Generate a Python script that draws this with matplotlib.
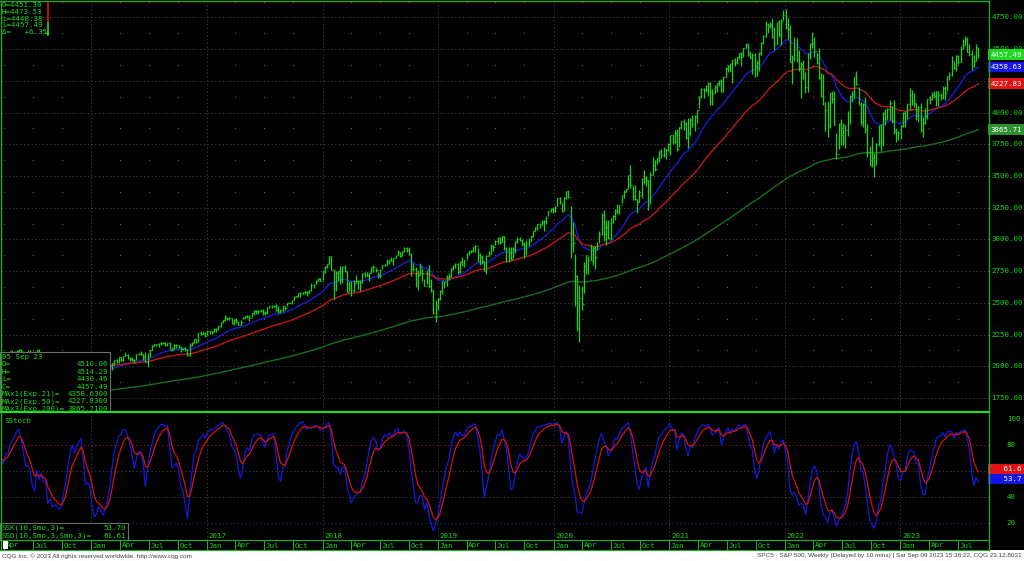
import matplotlib
matplotlib.use("Agg")
import matplotlib.pyplot as plt
import matplotlib.dates as mdates
import matplotlib.transforms as mtransforms
from matplotlib.patches import Rectangle
from matplotlib.lines import Line2D
import numpy as np
import pandas as pd

# S&P 500 weekly bars, first bar = week of Mon 23 Mar 2015, last = week of 4 Sep 2023
first_week = "2015-03-23"
closes = [
    # 2015
    2061, 2067, 2102, 2081, 2117, 2108, 2116, 2123, 2126, 2107, 2092, 2094, 2110, 2102, 2077, 2076, 2127, 2080, 2104, 2078,
    2092, 1971, 1989, 1921, 1961, 1958, 1931, 1951, 2015, 2033, 2075, 2079, 2099, 2023, 2089, 2090, 2092, 2012, 2006, 2061, 2044,
    # 2016
    1922, 1880, 1907, 1940, 1880, 1865, 1918, 1948, 2000, 2022, 2050, 2035, 2073, 2048, 2081, 2092, 2065, 2057, 2047, 2052,
    2099, 2099, 2096, 2071, 2037, 2103, 2130, 2162, 2175, 2174, 2183, 2184, 2184, 2169, 2180, 2128, 2139, 2165, 2168, 2153,
    2133, 2141, 2126, 2085, 2164, 2182, 2213, 2192, 2260, 2258, 2264, 2239,
    # 2017
    2277, 2275, 2271, 2295, 2297, 2316, 2351, 2367, 2383, 2373, 2378, 2344, 2363, 2355, 2329, 2349, 2384, 2399, 2391, 2382,
    2416, 2439, 2432, 2433, 2438, 2423, 2425, 2459, 2473, 2472, 2476, 2441, 2426, 2443, 2477, 2461, 2500, 2502, 2519, 2549,
    2553, 2575, 2581, 2588, 2582, 2579, 2602, 2642, 2652, 2676, 2684, 2674,
    # 2018
    2743, 2786, 2810, 2873, 2762, 2620, 2732, 2747, 2691, 2786, 2752, 2588, 2641, 2604, 2656, 2670, 2670, 2663, 2728, 2713,
    2721, 2735, 2779, 2780, 2755, 2718, 2760, 2801, 2802, 2819, 2840, 2833, 2850, 2875, 2902, 2872, 2905, 2930, 2914, 2886,
    2767, 2768, 2659, 2723, 2781, 2736, 2633, 2760, 2633, 2600, 2417, 2486, 2532,
    # 2019
    2596, 2671, 2665, 2707, 2708, 2776, 2793, 2804, 2743, 2822, 2801, 2834, 2893, 2907, 2905, 2940, 2946, 2881, 2860, 2826,
    2752, 2873, 2887, 2950, 2942, 2990, 3014, 2976, 3026, 2932, 2919, 2889, 2847, 2926, 2979, 3007, 2992, 2962, 2952, 2970,
    2986, 3023, 3067, 3093, 3120, 3110, 3141, 3146, 3169, 3221, 3240, 3235,
    # 2020
    3265, 3330, 3295, 3226, 3328, 3380, 3338, 2954, 2972, 2711, 2305, 2541, 2489, 2790, 2875, 2837, 2831, 2930, 2864, 2955,
    3044, 3194, 3041, 3098, 3009, 3130, 3185, 3225, 3216, 3271, 3351, 3373, 3397, 3508, 3427, 3341, 3319, 3298, 3348, 3477,
    3484, 3465, 3270, 3510, 3585, 3558, 3638, 3699, 3663, 3709, 3703, 3756,
    # 2021
    3825, 3768, 3841, 3714, 3887, 3935, 3907, 3811, 3842, 3943, 3913, 3975, 4020, 4129, 4185, 4180, 4181, 4233, 4174, 4156,
    4204, 4230, 4247, 4166, 4281, 4352, 4370, 4327, 4412, 4395, 4437, 4468, 4442, 4509, 4535, 4459, 4433, 4455, 4357, 4391,
    4471, 4545, 4605, 4697, 4683, 4698, 4595, 4538, 4712, 4621, 4726, 4766,
    # 2022
    4677, 4663, 4398, 4432, 4501, 4419, 4349, 4385, 4329, 4204, 4463, 4543, 4546, 4488, 4393, 4272, 4132, 4123, 4024, 3901,
    4158, 4109, 3901, 3675, 3912, 3825, 3899, 3863, 3962, 4130, 4145, 4280, 4228, 4058, 3924, 4067, 3873, 3693, 3586, 3640,
    3583, 3753, 3901, 3771, 3993, 3965, 4026, 4072, 3934, 3852, 3845, 3840,
    # 2023
    3895, 3999, 3973, 4071, 4136, 4090, 4079, 3970, 4046, 3862, 3917, 3971, 4109, 4105, 4138, 4133, 4169, 4136, 4124, 4192,
    4151, 4282, 4299, 4410, 4348, 4450, 4399, 4505, 4536, 4582, 4478, 4464, 4370, 4406, 4516, 4457.49,
]
highs = [
    # 2015
    2106, 2089, 2103, 2107, 2120, 2126, 2120, 2126, 2134, 2133, 2121, 2109, 2126, 2129, 2086, 2085, 2129, 2133, 2114, 2113,
    2103, 2103, 1993, 1986, 1976, 2021, 1990, 1963, 2021, 2034, 2080, 2094, 2116, 2094, 2098, 2095, 2104, 2095, 2076, 2067, 2082,
    # 2016
    2038, 1950, 1909, 1940, 1947, 1882, 1930, 1963, 2010, 2022, 2052, 2056, 2075, 2075, 2083, 2112, 2097, 2075, 2075, 2056,
    2100, 2106, 2120, 2096, 2113, 2105, 2131, 2170, 2176, 2177, 2183, 2188, 2188, 2188, 2185, 2188, 2149, 2175, 2172, 2169,
    2161, 2146, 2152, 2133, 2182, 2189, 2214, 2215, 2262, 2278, 2266, 2273,
    # 2017
    2282, 2279, 2279, 2301, 2299, 2319, 2352, 2368, 2401, 2386, 2390, 2379, 2370, 2378, 2359, 2361, 2392, 2400, 2403, 2406,
    2419, 2441, 2447, 2446, 2454, 2450, 2432, 2464, 2478, 2484, 2480, 2491, 2474, 2454, 2481, 2475, 2500, 2508, 2520, 2552,
    2555, 2575, 2582, 2588, 2597, 2590, 2605, 2657, 2652, 2680, 2695, 2692,
    # 2018
    2760, 2787, 2810, 2873, 2870, 2763, 2754, 2747, 2789, 2787, 2802, 2753, 2674, 2672, 2680, 2718, 2683, 2683, 2732, 2742,
    2742, 2739, 2780, 2801, 2771, 2746, 2764, 2802, 2809, 2848, 2841, 2864, 2855, 2877, 2916, 2901, 2909, 2941, 2937, 2940,
    2888, 2816, 2781, 2756, 2816, 2776, 2691, 2761, 2800, 2686, 2601, 2520, 2538,
    # 2019
    2598, 2675, 2672, 2716, 2738, 2776, 2795, 2814, 2816, 2831, 2860, 2836, 2894, 2910, 2917, 2940, 2955, 2931, 2892, 2874,
    2829, 2876, 2905, 2964, 2959, 2996, 3017, 3017, 3028, 3027, 2944, 2943, 2940, 2940, 2985, 3021, 3022, 3002, 2983, 2993,
    3008, 3028, 3067, 3098, 3121, 3127, 3154, 3150, 3182, 3226, 3247, 3258,
    # 2020
    3267, 3330, 3337, 3285, 3337, 3385, 3393, 3260, 3137, 2883, 2719, 2637, 2631, 2818, 2880, 2871, 2964, 2945, 2945, 2980,
    3068, 3211, 3233, 3155, 3155, 3165, 3190, 3238, 3279, 3272, 3352, 3387, 3399, 3509, 3588, 3425, 3428, 3322, 3393, 3482,
    3550, 3502, 3466, 3529, 3646, 3628, 3645, 3699, 3712, 3726, 3712, 3760,
    # 2021
    3827, 3823, 3859, 3870, 3887, 3937, 3950, 3928, 3960, 3960, 3983, 3978, 4021, 4130, 4191, 4195, 4219, 4238, 4238, 4188,
    4214, 4234, 4255, 4262, 4287, 4356, 4372, 4394, 4415, 4430, 4440, 4468, 4480, 4510, 4545, 4549, 4482, 4466, 4466, 4412,
    4476, 4559, 4608, 4719, 4707, 4718, 4744, 4672, 4713, 4731, 4740, 4808,
    # 2022
    4819, 4749, 4691, 4453, 4596, 4590, 4490, 4396, 4416, 4319, 4466, 4546, 4637, 4593, 4471, 4513, 4309, 4308, 4081, 4091,
    4158, 4169, 4168, 3838, 3914, 3951, 3918, 3900, 4013, 4140, 4167, 4280, 4325, 4203, 4084, 4077, 4119, 3907, 3734, 3807,
    3685, 3762, 3905, 3911, 4001, 4028, 4034, 4100, 4052, 4101, 3878, 3858,
    # 2023
    3906, 4004, 4015, 4079, 4195, 4176, 4157, 4075, 4049, 4079, 3965, 4039, 4110, 4133, 4164, 4169, 4170, 4167, 4154, 4212,
    4212, 4290, 4322, 4448, 4400, 4458, 4456, 4528, 4578, 4607, 4595, 4540, 4491, 4458, 4542, 4514.29,
]
lows = [
    # 2015
    2056, 2046, 2062, 2079, 2077, 2067, 2067, 2093, 2117, 2099, 2082, 2072, 2086, 2097, 2056, 2044, 2077, 2077, 2063, 2067,
    2052, 1971, 1867, 1903, 1903, 1944, 1908, 1872, 1953, 1999, 2022, 2058, 2069, 2022, 2022, 2073, 2042, 2007, 1993, 2005, 2043,
    # 2016
    1918, 1858, 1812, 1872, 1872, 1810, 1871, 1891, 1937, 1969, 2010, 2022, 2022, 2039, 2040, 2078, 2060, 2040, 2039, 2025,
    2047, 2085, 2085, 2050, 2033, 1991, 2074, 2126, 2156, 2156, 2148, 2164, 2176, 2160, 2156, 2127, 2119, 2139, 2145, 2142,
    2115, 2125, 2122, 2084, 2084, 2157, 2184, 2187, 2192, 2250, 2254, 2233,
    # 2017
    2245, 2258, 2258, 2266, 2267, 2288, 2311, 2343, 2358, 2362, 2362, 2332, 2322, 2344, 2322, 2328, 2369, 2378, 2384, 2353,
    2386, 2407, 2415, 2414, 2430, 2406, 2407, 2415, 2457, 2459, 2466, 2437, 2417, 2417, 2428, 2446, 2474, 2496, 2488, 2521,
    2543, 2547, 2545, 2566, 2566, 2557, 2576, 2597, 2617, 2650, 2674, 2673,
    # 2018
    2682, 2737, 2778, 2808, 2759, 2533, 2594, 2675, 2647, 2658, 2741, 2585, 2593, 2553, 2586, 2660, 2612, 2594, 2653, 2702,
    2708, 2676, 2735, 2743, 2742, 2698, 2698, 2770, 2790, 2800, 2803, 2830, 2802, 2852, 2877, 2864, 2871, 2903, 2903, 2874,
    2710, 2750, 2628, 2603, 2722, 2670, 2631, 2649, 2621, 2583, 2409, 2347, 2443,
    # 2019
    2524, 2570, 2613, 2631, 2682, 2700, 2760, 2775, 2728, 2735, 2800, 2785, 2848, 2874, 2891, 2898, 2900, 2825, 2801, 2805,
    2750, 2728, 2873, 2887, 2910, 2952, 2965, 2966, 2977, 2914, 2822, 2822, 2834, 2856, 2891, 2975, 2985, 2945, 2855, 2874,
    2950, 2990, 3019, 3066, 3075, 3091, 3115, 3070, 3123, 3183, 3217, 3212,
    # 2020
    3215, 3263, 3281, 3214, 3223, 3315, 3328, 2855, 2901, 2478, 2280, 2191, 2447, 2576, 2728, 2727, 2836, 2797, 2766, 2917,
    2974, 3038, 2984, 2958, 3004, 2999, 3127, 3153, 3200, 3204, 3284, 3329, 3370, 3396, 3405, 3310, 3313, 3209, 3298, 3323,
    3440, 3419, 3234, 3279, 3511, 3543, 3594, 3609, 3645, 3647, 3636, 3699,
    # 2021
    3663, 3749, 3764, 3694, 3725, 3874, 3866, 3789, 3723, 3815, 3885, 3853, 3917, 4035, 4118, 4118, 4165, 4128, 4057, 4062,
    4154, 4166, 4206, 4165, 4164, 4282, 4321, 4327, 4233, 4367, 4386, 4422, 4367, 4441, 4513, 4447, 4428, 4306, 4278, 4288,
    4329, 4456, 4537, 4595, 4631, 4667, 4585, 4495, 4540, 4598, 4532, 4733,
    # 2022
    4663, 4582, 4395, 4223, 4408, 4401, 4327, 4115, 4268, 4157, 4162, 4424, 4506, 4441, 4381, 4267, 4123, 4063, 3858, 3810,
    3875, 4074, 3900, 3636, 3716, 3741, 3743, 3721, 3819, 3911, 4080, 4112, 4218, 4057, 3906, 3886, 3837, 3647, 3584, 3572,
    3491, 3590, 3739, 3698, 3735, 3906, 3938, 3938, 3919, 3828, 3765, 3780,
    # 2023
    3794, 3887, 3885, 3949, 4020, 4060, 4047, 3944, 3928, 3847, 3809, 3909, 3952, 4069, 4099, 4114, 4049, 4049, 4099, 4106,
    4103, 4167, 4259, 4292, 4341, 4329, 4384, 4399, 4504, 4532, 4474, 4446, 4335, 4356, 4404, 4430.46,
]

# starting levels of the exponential averages at the first bar
ema_periods = [21, 50, 200]
ema_seeds = [2060, 2010, 1670]
ema_colors = ["#1c1cd0", "#c01818", "#1a6e1a"]

# stochastic: range of the weeks before the first bar and starting levels of the two lines
stoch_prior_range = [1980, 2119]
stoch_seeds = [72, 70]

# CQG readouts
last_bar_date = "05 Sep 23"
last_bar_ohlc = [4510.06, 4514.29, 4430.46, 4457.49]
ma_values = [4358.63, 4227.83, 3865.71]
ma_names = ["MAx1(Exp.21)=", "MAx2(Exp.50)=", "MAx3(Exp.200)="]
quote_lines = ["O=4451.30", "H=4473.53", "L=4448.38", "L=4457.49", "\u0394=   +6.35"]
stoch_values = [53.70, 61.61]

price_ticks = [1750, 2000, 2250, 2500, 2750, 3000, 3250, 3500, 3750, 4000, 4250, 4500, 4750]
hidden_price_ticks = [4250]          # covered by the MA boxes
stoch_ticks = [20, 40, 60, 80, 100]
hidden_stoch_ticks = [60]

green_txt = "#1ed41e"
bar_green = "#1bd21b"
frame_green = "#2aa52a"
grid_grey = "#4a4a4a"
mono = "DejaVu Sans Mono"
fs = 5.4

W, H = 1024, 561
fig = plt.figure(figsize=(W / 100, H / 100), dpi=100, facecolor="black")
pix = mtransforms.Affine2D().scale(1 / W, -1 / H).translate(0, 1) + fig.transFigure


def rect(x0, y0, x1, y1):
    return [x0 / W, 1 - y1 / H, (x1 - x0) / W, (y1 - y0) / H]


ax = fig.add_axes(rect(1, 2, 989, 411), facecolor="black")
ax_st = fig.add_axes(rect(1, 413, 989, 540), facecolor="black", sharex=ax)
ax_dt = fig.add_axes(rect(1, 540, 989, 550), facecolor="black", sharex=ax)
for a in (ax, ax_st, ax_dt):
    for s in a.spines.values():
        s.set_visible(False)
    a.tick_params(which="both", length=0, labelleft=False, labelbottom=False)

weeks = pd.date_range(first_week, periods=len(closes), freq="W-MON")
x = mdates.date2num(weeks)
c = np.array(closes, dtype=float)
hi = np.array(highs, dtype=float)
lo = np.array(lows, dtype=float)
op = np.r_[c[0], c[:-1]]
op[-1] = last_bar_ohlc[0]

# price bars
ax.vlines(x, lo, hi, color=bar_green, lw=0.9, zorder=3)
ax.hlines(op, x - 2.6, x, color=bar_green, lw=0.9, zorder=3)
ax.hlines(c, x, x + 2.6, color=bar_green, lw=0.9, zorder=3)

# exponential moving averages
for n, seed, col in zip(ema_periods, ema_seeds, ema_colors):
    alpha = 2 / (n + 1)
    e = seed
    line = []
    for v in c:
        e = e + alpha * (v - e)
        line.append(e)
    ax.plot(x, line, color=col, lw=1.0, zorder=2)

jan_x = mdates.date2num(pd.date_range("2016-01-01", "2023-01-01", freq="YS"))
quarters = pd.date_range("2015-04-01", "2023-07-01", freq="QS")
ax.set_xlim(mdates.date2num(pd.Timestamp("2015-03-22")), mdates.date2num(pd.Timestamp("2023-10-08")))
ax.set_ylim(1647, 4872)
ax.set_xticks(jan_x)
ax.set_yticks(price_ticks)
ax.grid(True, color=grid_grey, ls=(0, (1.5, 3)), lw=0.6, zorder=0)

# faint dots at the quarter marks between the grid lines
q_mid = [mdates.date2num(q) for q in quarters if q.month != 1]
mid_levels = [v + 125 for v in price_ticks[:-1]] + [1750 - 125 + 250 * 13]
qx, qy = np.meshgrid(q_mid, mid_levels)
ax.plot(qx.ravel(), qy.ravel(), ls="none", marker="s", ms=0.9, mew=0, color="#555555", zorder=0)

# slow stochastic (10, smoothed 3, smoothed 3)
hh = np.array([max(hi[max(0, i - 9):i + 1].max(), stoch_prior_range[1] if i < 9 else 0) for i in range(len(c))])
ll = np.array([min(lo[max(0, i - 9):i + 1].min(), stoch_prior_range[0] if i < 9 else 1e9) for i in range(len(c))])
fast_k = 100 * (c - ll) / (hh - ll)
ssk, ssd = [], []
k, d = stoch_seeds
for v in fast_k:
    k = k + (v - k) / 3
    d = d + (k - d) / 3
    ssk.append(k)
    ssd.append(d)
ax_st.plot(x, ssk, color="#1818e0", lw=0.9, zorder=3)
ax_st.plot(x, ssd, color="#d01414", lw=0.9, zorder=3)
ax_st.set_ylim(6.9, 104.6)
ax_st.set_yticks([40, 60])
ax_st.grid(True, color=grid_grey, ls=(0, (1.5, 3)), lw=0.6, zorder=0)
ax_st.axhline(80, color="#a02020", ls=(0, (1.5, 3)), lw=0.6, zorder=1)
ax_st.axhline(20, color="#2a2ab0", ls=(0, (1.5, 3)), lw=0.6, zorder=1)
ax_st.text(0.004, 0.94, "SStoch", transform=ax_st.transAxes, color=green_txt, fontsize=fs,
           family=mono, va="center", ha="left")

# date row
ax_dt.set_ylim(0, 1)
for q in quarters:
    qd = mdates.date2num(q)
    ax_dt.axvline(qd, color=frame_green, lw=0.8)
    ax_dt.text(qd + 5, 0.45, q.strftime("%b"), color=green_txt, fontsize=fs, family=mono,
               va="center", ha="left", clip_on=True)
yr_tr = mtransforms.blended_transform_factory(ax_st.transData, ax_st.transAxes)
for jx, yr in zip(jan_x, range(2016, 2024)):
    if yr == 2016:
        continue  # sits under the stochastic readout box
    ax_st.text(jx + 5, 0.035, str(yr), transform=yr_tr, color=green_txt, fontsize=fs, family=mono,
               va="center", ha="left")

# right-hand scales
blend = mtransforms.blended_transform_factory(ax.transAxes, ax.transData)
for v in price_ticks:
    if v in hidden_price_ticks:
        continue
    ax.text(1.0025, v, f"{v:.2f}", transform=blend, ha="left", va="center", color=green_txt,
            fontsize=fs, family=mono, clip_on=False)
box_vals = [last_bar_ohlc[3]] + ma_values
box_cols = ["#22d822", "#1414e6", "#e01414", "#2e8f2e"]
for v, fc in zip(box_vals, box_cols):
    ax.text(1.0015, v, f"{v:.2f}", transform=blend, ha="left", va="center", color="white",
            fontsize=fs, family=mono, clip_on=False, zorder=5,
            bbox=dict(boxstyle="square,pad=0.3", fc=fc, ec="none"))

blend_st = mtransforms.blended_transform_factory(ax_st.transAxes, ax_st.transData)
for v in stoch_ticks:
    if v in hidden_stoch_ticks:
        continue
    ax_st.text(1.018, v, f"{v}", transform=blend_st, ha="left", va="center", color=green_txt,
               fontsize=fs, family=mono, clip_on=False)
for v, fc in zip([stoch_values[1], stoch_values[0]], ["#e01414", "#1414e6"]):
    ax_st.text(1.0015, v, f"{v:>7.1f}", transform=blend_st, ha="left", va="center", color="white",
               fontsize=fs, family=mono, clip_on=False, zorder=5,
               bbox=dict(boxstyle="square,pad=0.3", fc=fc, ec="none"))

# frame lines
fig.add_artist(Line2D([0, 989], [1, 1], transform=pix, color=frame_green, lw=1.0))
fig.add_artist(Line2D([1, 1], [1, 550], transform=pix, color=frame_green, lw=1.0))
fig.add_artist(Line2D([989, 989], [1, 550], transform=pix, color=frame_green, lw=1.0))
fig.add_artist(Line2D([0, 989], [412, 412], transform=pix, color="#10ee10", lw=1.4))
fig.add_artist(Line2D([0, 989], [540, 540], transform=pix, color=frame_green, lw=0.9))
fig.add_artist(Line2D([0, 989], [550, 550], transform=pix, color=frame_green, lw=0.9))

# top-left live quote
for i, s in enumerate(quote_lines):
    fig.text(2 / W, 1 - (5 + 6.8 * i) / H, s, color=green_txt, fontsize=fs, family=mono, va="center", ha="left")
fig.add_artist(Line2D([48, 48], [3, 23], transform=pix, color="#e01010", lw=1.2))
fig.add_artist(Line2D([48, 48], [23, 35], transform=pix, color="#22dd22", lw=1.2))
fig.add_artist(Line2D([46, 48], [33, 33], transform=pix, color="#22dd22", lw=1.0))

# last bar info box
fig.add_artist(Rectangle((0, 352), 110, 60, transform=pix, fc="black", ec="#6e6e6e", lw=0.8))
info_rows = [(last_bar_date, "")] + [(k_, f"{v:.2f}") for k_, v in zip(["O=", "H=", "L=", "C="], last_bar_ohlc)] \
    + [(k_, f"{v:.4f}") for k_, v in zip(ma_names, ma_values)]
for i, (k_, v) in enumerate(info_rows):
    yy = 357 + 7.4 * i
    fig.text(2 / W, 1 - yy / H, k_, color=green_txt, fontsize=fs, family=mono, va="center", ha="left")
    fig.text(108 / W, 1 - yy / H, v, color=green_txt, fontsize=fs, family=mono, va="center", ha="right")

# stochastic readout box
fig.add_artist(Rectangle((0, 523), 128, 17, transform=pix, fc="black", ec="#6e6e6e", lw=0.8))
for i, (k_, v) in enumerate(zip(["SSK(10,Smo,3)=", "SSD(10,Smo,3,Smo,3)="], stoch_values)):
    yy = 528 + 8 * i
    fig.text(2 / W, 1 - yy / H, k_, color=green_txt, fontsize=fs, family=mono, va="center", ha="left")
    fig.text(126 / W, 1 - yy / H, f"{v:.2f}", color=green_txt, fontsize=fs, family=mono, va="center", ha="right")
fig.add_artist(Rectangle((3, 541), 5, 8, transform=pix, fc="white", ec="none"))

# footer
fig.add_artist(Rectangle((0, 550.5), W, 11, transform=pix, fc="white", ec="none"))
foot_font = ["Liberation Sans Narrow", "Liberation Sans"]
fig.text(2 / W, 1 - 556 / H, "CQG Inc. \u00a9 2023 All rights reserved worldwide. http://www.cqg.com",
         color="#404040", fontsize=4.6, family=foot_font, va="center", ha="left")
fig.text(1022 / W, 1 - 556 / H,
         "SPC5 - S&P 500, Weekly (Delayed by 10 mins) | Sat Sep 09 2023 15:36:22, CQG 23.12.8031",
         color="#404040", fontsize=4.6, family=foot_font, va="center", ha="right")

fig.savefig("out.png", dpi=100, facecolor="black")
